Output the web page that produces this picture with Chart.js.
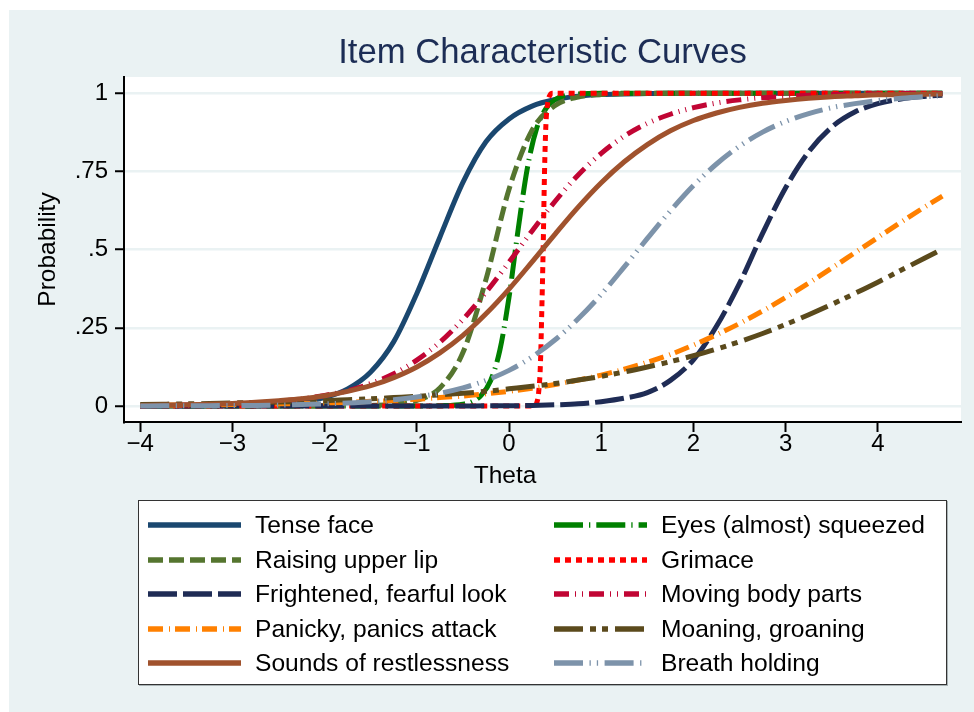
<!DOCTYPE html>
<html>
<head>
<meta charset="utf-8">
<title>Item Characteristic Curves</title>
<script src="https://cdn.jsdelivr.net/npm/chart.js@4.4.1/dist/chart.umd.min.js"></script>
<style>
    body { margin: 0; background: #fff; }
    #wrap { position: relative; width: 974px; height: 712px; }
    #legend {
        position: absolute; left: 138px; top: 500px; width: 809px; height: 185px;
        box-sizing: border-box; background: #fff; border: 1px solid #333;
        box-shadow: 1px 1px 0 #a9b3b5;
        display: grid; grid-template-columns: 406px 1fr; grid-auto-rows: 34.5px;
        padding: 6.75px 0 0 9px;
    }
    .item { display: flex; align-items: center; font: 24.6px "Liberation Sans", Arial, sans-serif; color: #000; white-space: nowrap; }
    .item svg { margin-right: 14px; flex: none; }
</style>
</head>
<body>
<div id="wrap">
    <canvas id="icc"></canvas>
    <div id="legend"></div>
</div>
<script>
// theta grid shared by most items
const theta = [-4, -3.75, -3.5, -3.25, -3, -2.75, -2.5, -2.25, -2, -1.75, -1.5, -1.25,
    -1, -0.75, -0.5, -0.25, 0, 0.25, 0.5, 0.75, 1, 1.25, 1.5, 1.75,
    2, 2.25, 2.5, 2.75, 3, 3.25, 3.5, 3.75, 4, 4.25, 4.5, 4.7];

const tenseFace = [0, 0, 0, 0.001, 0.001, 0.003, 0.006, 0.013, 0.027, 0.055, 0.109, 0.206,
    0.360, 0.540, 0.715, 0.845, 0.918, 0.959, 0.980, 0.991, 0.996, 0.998, 0.999, 1,
    1, 1, 1, 1, 1, 1, 1, 1, 1, 1, 1, 1];
const raisingUpperLip = [0, 0, 0, 0, 0, 0, 0, 0, 0, 0.001, 0.002, 0.006,
    0.018, 0.058, 0.171, 0.405, 0.693, 0.882, 0.961, 0.988, 0.996, 0.999, 1, 1,
    1, 1, 1, 1, 1, 1, 1, 1, 1, 1, 1, 1];
const frightened = [0, 0, 0, 0, 0, 0, 0, 0, 0, 0, 0, 0,
    0, 0, 0, 0.001, 0.001, 0.002, 0.004, 0.007, 0.014, 0.025, 0.043, 0.082,
    0.148, 0.255, 0.392, 0.552, 0.698, 0.813, 0.892, 0.940, 0.967, 0.982, 0.990, 0.994];
const panicky = [0.002, 0.003, 0.003, 0.004, 0.005, 0.006, 0.007, 0.008, 0.010, 0.012, 0.015, 0.018,
    0.022, 0.027, 0.032, 0.039, 0.047, 0.057, 0.069, 0.083, 0.099, 0.118, 0.140, 0.165,
    0.195, 0.228, 0.264, 0.304, 0.347, 0.393, 0.441, 0.490, 0.539, 0.588, 0.635, 0.671];
const soundsRestless = [0.002, 0.003, 0.004, 0.006, 0.008, 0.012, 0.017, 0.023, 0.033, 0.047, 0.065, 0.091,
    0.125, 0.170, 0.226, 0.295, 0.374, 0.461, 0.550, 0.636, 0.714, 0.781, 0.836, 0.880,
    0.913, 0.937, 0.955, 0.968, 0.977, 0.984, 0.989, 0.992, 0.995, 0.996, 0.997, 0.998];
const movingBodyParts = [0.001, 0.002, 0.003, 0.005, 0.007, 0.010, 0.015, 0.023, 0.034, 0.049, 0.072, 0.103,
    0.147, 0.204, 0.277, 0.364, 0.460, 0.560, 0.655, 0.739, 0.808, 0.863, 0.904, 0.933,
    0.954, 0.969, 0.979, 0.986, 0.990, 0.994, 0.996, 0.997, 0.998, 0.999, 0.999, 0.999];
const moaning = [0.005, 0.006, 0.007, 0.008, 0.010, 0.011, 0.013, 0.015, 0.017, 0.020, 0.023, 0.027,
    0.031, 0.036, 0.041, 0.047, 0.055, 0.063, 0.072, 0.083, 0.095, 0.109, 0.125, 0.142,
    0.161, 0.182, 0.206, 0.232, 0.261, 0.292, 0.325, 0.360, 0.396, 0.434, 0.472, 0.502];
const breathHolding = [0, 0.001, 0.001, 0.001, 0.002, 0.002, 0.003, 0.005, 0.007, 0.010, 0.014, 0.020,
    0.029, 0.041, 0.058, 0.082, 0.114, 0.157, 0.212, 0.279, 0.357, 0.445, 0.536, 0.624,
    0.705, 0.774, 0.831, 0.876, 0.910, 0.935, 0.954, 0.967, 0.977, 0.984, 0.989, 0.992];

// the two steep items need a finer grid
const thetaEyes = [-4, -3, -2, -1.5, -1, -0.75, -0.5, -0.4, -0.3, -0.2, -0.1, 0,
    0.1, 0.2, 0.3, 0.4, 0.5, 0.6, 0.75, 1, 1.5, 2, 3, 4, 4.7];
const eyesSqueezed = [0, 0, 0, 0, 0, 0.001, 0.006, 0.014, 0.035, 0.081, 0.178, 0.348,
    0.567, 0.763, 0.888, 0.951, 0.980, 0.992, 0.998, 1, 1, 1, 1, 1, 1];
const thetaGrimace = [-4, -3, -2, -1, 0, 0.2, 0.28, 0.3, 0.32, 0.34, 0.355, 0.37,
    0.385, 0.4, 0.42, 0.445, 0.47, 0.5, 1, 2, 3, 4, 4.7];
const grimace = [0, 0, 0, 0, 0, 0, 0.002, 0.01, 0.04, 0.13, 0.30, 0.50,
    0.75, 0.90, 0.97, 0.995, 1, 1, 1, 1, 1, 1, 1];

const xTicks = [-4, -3, -2, -1, 0, 1, 2, 3, 4];
const xTickLabels = ['\u22124', '\u22123', '\u22122', '\u22121', '0', '1', '2', '3', '4'];
const yTicks = [0, 0.25, 0.5, 0.75, 1];
const yTickLabels = ['0', '.25', '.5', '.75', '1'];

const chartTitle = 'Item Characteristic Curves';
const xAxisTitle = 'Theta';
const yAxisTitle = 'Probability';

const FONT = '"Liberation Sans", Arial, Helvetica, sans-serif';

// legend order (row by row), later items are drawn on top
const series = [
    { label: 'Tense face', x: theta, y: tenseFace, color: '#1a476f', dash: [] },
    { label: 'Eyes (almost) squeezed', x: thetaEyes, y: eyesSqueezed, color: '#008000', dash: [29, 6, 1.3, 6] },
    { label: 'Raising upper lip', x: theta, y: raisingUpperLip, color: '#55752f', dash: [15, 6] },
    { label: 'Grimace', x: thetaGrimace, y: grimace, color: '#ff0000', dash: [6, 5] },
    { label: 'Frightened, fearful look', x: theta, y: frightened, color: '#1f2c55', dash: [29, 6] },
    { label: 'Moving body parts', x: theta, y: movingBodyParts, color: '#c10534', dash: [15, 6, 1, 6, 1, 6] },
    { label: 'Panicky, panics attack', x: theta, y: panicky, color: '#ff8000', dash: [15, 6, 1, 5] },
    { label: 'Moaning, groaning', x: theta, y: moaning, color: '#5b4a1c', dash: [29, 7, 6, 6, 6, 7] },
    { label: 'Sounds of restlessness', x: theta, y: soundsRestless, color: '#a0522d', dash: [] },
    { label: 'Breath holding', x: theta, y: breathHolding, color: '#7d93aa', dash: [29, 6.5, 1.3, 6, 1.3, 6.5] }
];

const datasets = series.map((s, i) => ({
    label: s.label,
    data: s.x.map((t, j) => ({ x: t, y: s.y[j] })),
    borderColor: s.color,
    borderDash: s.dash,
    borderWidth: 5,
    borderCapStyle: 'butt',
    pointRadius: 0,
    fill: false,
    cubicInterpolationMode: 'monotone',
    order: series.length - i
}));

// grey page, white plot region
const backdrop = {
    id: 'backdrop',
    beforeDraw(chart) {
        const { ctx, chartArea: a, width, height } = chart;
        ctx.save();
        ctx.fillStyle = '#ffffff';
        ctx.fillRect(0, 0, width, height);
        ctx.fillStyle = '#eaf2f3';
        ctx.fillRect(9, 10, width - 9, height - 10);
        ctx.fillStyle = '#ffffff';
        ctx.fillRect(a.left, a.top, a.right - a.left, a.bottom - a.top);
        ctx.restore();
    }
};

// x title sits a bit left of the plot centre in the original
const thetaTitle = {
    id: 'thetaTitle',
    afterDraw(chart) {
        const ctx = chart.ctx;
        ctx.save();
        ctx.font = '24.5px ' + FONT;
        ctx.fillStyle = '#000';
        ctx.textAlign = 'center';
        ctx.textBaseline = 'middle';
        ctx.fillText(xAxisTitle, 505, 476);
        ctx.restore();
    }
};

new Chart(document.getElementById('icc'), {
    type: 'line',
    data: { datasets: datasets },
    plugins: [backdrop, thetaTitle],
    options: {
        responsive: true,
        maintainAspectRatio: false,
        devicePixelRatio: 1,
        animation: false,
        layout: { padding: { left: 0, right: 13, top: 0, bottom: 0 } },
        plugins: {
            legend: { display: false },
            tooltip: { enabled: false },
            title: {
                display: true,
                text: chartTitle,
                fullSize: false,
                color: '#1c2d55',
                font: { family: FONT, size: 34.7, weight: 'normal', lineHeight: 1.2 },
                padding: { top: 32.5, bottom: 2.9 }
            }
        },
        scales: {
            x: {
                type: 'linear',
                min: -4.176,
                max: 4.902,
                afterFit: s => { s.height = 290; },
                afterBuildTicks: s => { s.ticks = xTicks.map(v => ({ value: v })); },
                border: { display: true, color: '#000', width: 2 },
                grid: { drawOnChartArea: false, drawTicks: true, tickLength: 10, tickColor: '#000', tickWidth: 2 },
                ticks: {
                    color: '#000',
                    padding: -2,
                    maxRotation: 0,
                    font: { family: FONT, size: 24 },
                    callback: v => xTickLabels[xTicks.indexOf(v)]
                }
            },
            y: {
                min: -0.051,
                max: 1.052,
                afterFit: s => { s.width = 124; },
                afterBuildTicks: s => { s.ticks = yTicks.map(v => ({ value: v })); },
                border: { display: true, color: '#000', width: 2 },
                grid: { color: '#eaf2f3', lineWidth: 2.5, drawTicks: true, tickLength: 9, tickColor: '#000', tickWidth: 2 },
                ticks: {
                    color: '#000',
                    padding: 7,
                    font: { family: FONT, size: 24 },
                    callback: v => yTickLabels[yTicks.indexOf(v)]
                },
                title: {
                    display: true,
                    text: yAxisTitle,
                    color: '#000',
                    font: { family: FONT, size: 24.5, lineHeight: 1.2 },
                    padding: { top: 33.5, bottom: 0 }
                }
            }
        }
    }
});

// legend drawn as html, two columns filled row by row
const legendBox = document.getElementById('legend');
series.forEach(s => {
    const item = document.createElement('div');
    item.className = 'item';
    const svgNS = 'http://www.w3.org/2000/svg';
    const svg = document.createElementNS(svgNS, 'svg');
    svg.setAttribute('width', '93');
    svg.setAttribute('height', '8');
    const line = document.createElementNS(svgNS, 'line');
    line.setAttribute('x1', '0');
    line.setAttribute('y1', '4');
    line.setAttribute('x2', '93');
    line.setAttribute('y2', '4');
    line.setAttribute('stroke', s.color);
    line.setAttribute('stroke-width', '5.5');
    if (s.dash.length) line.setAttribute('stroke-dasharray', s.dash.join(' '));
    svg.appendChild(line);
    const text = document.createElement('span');
    text.textContent = s.label;
    item.appendChild(svg);
    item.appendChild(text);
    legendBox.appendChild(item);
});
</script>
</body>
</html>
